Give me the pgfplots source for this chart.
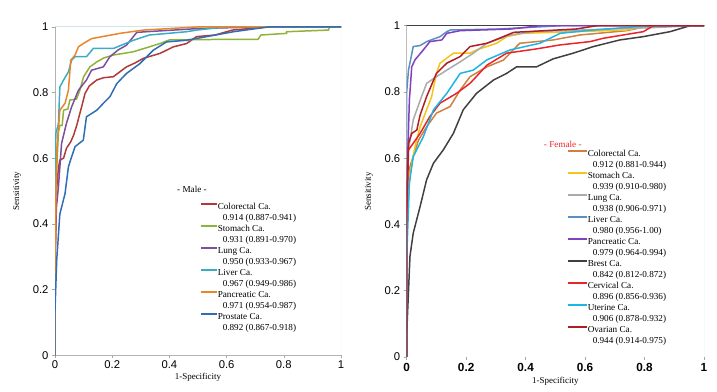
\documentclass[border=0pt]{standalone}
\usepackage{fontspec}
\setmainfont{Liberation Serif}
\setsansfont{Liberation Sans}
\usepackage{pgfplots}
\pgfplotsset{compat=1.18}
\definecolor{mRed}{HTML}{B03A3A}
\definecolor{mGreen}{HTML}{8DB33A}
\definecolor{mPurple}{HTML}{7B4FA0}
\definecolor{mCyan}{HTML}{3AACC6}
\definecolor{mOrange}{HTML}{E8862E}
\definecolor{mBlue}{HTML}{2F6DB5}
\definecolor{fColo}{HTML}{CF7F3F}
\definecolor{fStom}{HTML}{F5C518}
\definecolor{fLung}{HTML}{AAAAAA}
\definecolor{fLiver}{HTML}{5B8FBF}
\definecolor{fPanc}{HTML}{8040C0}
\definecolor{fBrest}{HTML}{404040}
\definecolor{fCerv}{HTML}{E8252A}
\definecolor{fUter}{HTML}{1EB4E6}
\definecolor{fOvar}{HTML}{B01E23}
\definecolor{frameBlue}{HTML}{CFE3EC}
\pgfplotsset{
  rocstyle/.style={
    scale only axis,
    xmin=0, xmax=1, ymin=0, ymax=1,
    xtick={0,0.2,0.4,0.6,0.8,1},
    ytick={0,0.2,0.4,0.6,0.8,1},
    xticklabels={0,0.2,0.4,0.6,0.8,1},
    yticklabels={0,0.2,0.4,0.6,0.8,1},
    axis line style={draw=none},
    tick align=outside,
    xtick pos=bottom, ytick pos=left,
    major tick length=3bp,
    tick style={gray!70, line width=0.5pt},
    ticklabel style={font=\sffamily\fontsize{11.3}{12}\selectfont},
    xlabel={1-Specificity}, ylabel={Sensitivity},
    label style={font=\fontsize{9}{10}\selectfont},
    legend cell align=left,
    legend style={draw=none, fill=none, font=\fontsize{9.2}{11}\selectfont,
      nodes={inner sep=0pt, outer sep=0pt, text height=7.9bp, text depth=3.1bp},
      row sep=0pt, column sep=0pt},
    every axis plot/.append style={line width=1.5pt, line join=miter},
  },
}
\newcommand{\num}[1]{\addlegendimage{empty legend}\addlegendentry{\hspace{5bp}#1}}
\begin{document}
\begin{tikzpicture}
\useasboundingbox (0bp,0bp) rectangle (717bp,392bp);
% ---------------- Male ----------------
\begin{axis}[rocstyle, at={(55bp,36.7bp)}, anchor=south west, width=286bp, height=328.5bp,
  xlabel style={yshift=2bp}, ylabel style={yshift=5bp},
  xticklabel style={yshift=1bp},
  legend image code/.code={\draw[#1, line width=1.6pt] (0bp,3.2bp) -- (16bp,3.2bp);},
  legend style={at={(0.4965,0.475)}, anchor=north west,
    /tikz/every even column/.append style={column sep=7bp}}]
\draw[gray!60, line width=0.8pt] (rel axis cs:0,0) -- (rel axis cs:0,1);
\draw[gray!60, line width=0.8pt] (rel axis cs:0,0) -- (rel axis cs:1,0);
\draw[frameBlue, line width=0.8pt] (rel axis cs:1,0) -- (rel axis cs:1,1) -- (rel axis cs:0,1);
\addplot[color=mRed] coordinates {(0,0) (0,0.25) (0.005,0.5) (0.012,0.57) (0.017,0.594) (0.03,0.6) (0.04,0.63) (0.055,0.65) (0.065,0.67) (0.076,0.7) (0.085,0.73) (0.093,0.756) (0.105,0.797) (0.12,0.82) (0.146,0.838) (0.17,0.845) (0.204,0.848) (0.23,0.865) (0.25,0.878) (0.28,0.89) (0.309,0.904) (0.367,0.919) (0.414,0.939) (0.46,0.949) (0.495,0.97) (0.56,0.975) (0.62,0.99) (0.75,1) (1,1)};
\addlegendentry{Colorectal Ca.}\num{0.914 (0.887-0.941)}
\addplot[color=mGreen] coordinates {(0,0) (0,0.3) (0.005,0.55) (0.012,0.68) (0.017,0.70) (0.025,0.70) (0.03,0.746) (0.045,0.75) (0.052,0.777) (0.075,0.78) (0.087,0.807) (0.1,0.848) (0.122,0.878) (0.146,0.893) (0.17,0.905) (0.204,0.914) (0.274,0.924) (0.33,0.939) (0.367,0.949) (0.40,0.96) (0.62,0.962) (0.71,0.962) (0.72,0.975) (0.81,0.98) (0.81,0.985) (0.956,0.99) (0.96,1) (1,1)};
\addlegendentry{Stomach Ca.}\num{0.931 (0.891-0.970)}
\addplot[color=mPurple] coordinates {(0,0) (0,0.3) (0.005,0.45) (0.012,0.513) (0.023,0.645) (0.04,0.706) (0.058,0.756) (0.082,0.807) (0.11,0.838) (0.128,0.868) (0.169,0.878) (0.192,0.909) (0.22,0.929) (0.25,0.944) (0.274,0.97) (0.286,0.983) (0.32,0.985) (0.507,0.995) (0.74,1) (1,1)};
\addlegendentry{Lung Ca.}\num{0.950 (0.933-0.967)}
\addplot[color=mCyan] coordinates {(0,0) (0,0.55) (0.003,0.675) (0.012,0.705) (0.017,0.817) (0.03,0.838) (0.047,0.863) (0.058,0.898) (0.07,0.909) (0.11,0.909) (0.134,0.934) (0.204,0.934) (0.274,0.959) (0.33,0.975) (0.46,0.985) (0.495,0.99) (0.6,1) (1,1)};
\addlegendentry{Liver Ca.}\num{0.967 (0.949-0.986)}
\addplot[color=mOrange] coordinates {(0,0) (0,0.25) (0.003,0.45) (0.006,0.624) (0.017,0.746) (0.035,0.767) (0.047,0.807) (0.055,0.898) (0.07,0.914) (0.082,0.939) (0.099,0.949) (0.128,0.964) (0.227,0.98) (0.309,0.99) (0.507,1) (1,1)};
\addlegendentry{Pancreatic Ca.}\num{0.971 (0.954-0.987)}
\addplot[color=mBlue] coordinates {(0,0) (0,0.137) (0.006,0.29) (0.017,0.43) (0.035,0.492) (0.047,0.574) (0.058,0.604) (0.07,0.635) (0.099,0.655) (0.11,0.726) (0.146,0.746) (0.169,0.767) (0.192,0.787) (0.216,0.827) (0.25,0.858) (0.297,0.888) (0.344,0.929) (0.39,0.954) (0.46,0.959) (0.53,0.97) (0.624,0.985) (0.75,1) (1,1)};
\addlegendentry{Prostate Ca.}\num{0.892 (0.867-0.918)}
\node[font=\fontsize{9.2}{11}\selectfont, anchor=center] at (rel axis cs:0.479,0.505) {- Male -};
\end{axis}
% ---------------- Female ----------------
\begin{axis}[rocstyle, at={(406.7bp,35bp)}, anchor=south west, width=297.3bp, height=331.3bp,
  xlabel style={yshift=1bp}, ylabel style={yshift=5bp},
  xticklabel style={font=\sffamily\bfseries\fontsize{11.8}{12}\selectfont},
  legend image code/.code={\draw[#1, line width=1.6pt] (0bp,3.2bp) -- (19bp,3.2bp);},
  legend style={at={(0.529,0.636)}, anchor=north west,
    /tikz/every even column/.append style={column sep=9bp}}]
\draw[gray!50, line width=0.8pt] (rel axis cs:0,0) -- (rel axis cs:1,0);
\draw[gray!35, line width=0.8pt] (rel axis cs:1,0) -- (rel axis cs:1,1);
\draw[black!75, line width=0.8pt] (rel axis cs:0,0) -- (rel axis cs:0,1) -- (rel axis cs:1,1);
\addplot[color=fColo] coordinates {(0,0) (0,0.4) (0.011,0.575) (0.04,0.655) (0.067,0.695) (0.1,0.736) (0.146,0.756) (0.18,0.806) (0.213,0.846) (0.27,0.876) (0.325,0.896) (0.38,0.947) (0.493,0.957) (0.583,0.972) (0.74,0.985) (0.82,1) (1,1)};
\addlegendentry{Colorectal Ca.}\num{0.912 (0.881-0.944)}
\addplot[color=fStom] coordinates {(0,0) (0,0.4) (0.011,0.555) (0.028,0.635) (0.045,0.695) (0.067,0.746) (0.084,0.786) (0.1,0.856) (0.112,0.887) (0.157,0.917) (0.213,0.917) (0.235,0.927) (0.303,0.947) (0.336,0.967) (0.392,0.977) (0.74,0.987) (0.81,1) (1,1)};
\addlegendentry{Stomach Ca.}\num{0.939 (0.910-0.980)}
\addplot[color=fLung] coordinates {(0,0) (0,0.45) (0.006,0.625) (0.022,0.716) (0.05,0.786) (0.067,0.826) (0.1,0.846) (0.135,0.866) (0.18,0.891) (0.224,0.917) (0.27,0.947) (0.348,0.972) (0.426,0.982) (0.85,0.995) (0.96,1) (1,1)};
\addlegendentry{Lung Ca.}\num{0.938 (0.906-0.971)}
\addplot[color=fLiver] coordinates {(0,0) (0,0.8) (0.006,0.866) (0.022,0.937) (0.045,0.94) (0.067,0.952) (0.112,0.967) (0.135,0.982) (0.146,0.987) (0.31,0.99) (0.52,1) (1,1)};
\addlegendentry{Liver Ca.}\num{0.980 (0.956-1.00)}
\addplot[color=fPanc] coordinates {(0,0) (0,0.5) (0.009,0.776) (0.017,0.876) (0.028,0.897) (0.056,0.927) (0.078,0.952) (0.118,0.957) (0.135,0.977) (0.18,0.985) (0.35,0.99) (0.45,1) (1,1)};
\addlegendentry{Pancreatic Ca.}\num{0.979 (0.964-0.994)}
\addplot[color=fBrest] coordinates {(0,0) (0,0.07) (0.011,0.304) (0.022,0.374) (0.045,0.454) (0.067,0.535) (0.09,0.585) (0.123,0.625) (0.157,0.675) (0.19,0.746) (0.235,0.796) (0.292,0.836) (0.336,0.856) (0.37,0.876) (0.437,0.876) (0.493,0.9) (0.56,0.917) (0.628,0.937) (0.717,0.957) (0.796,0.967) (0.886,0.982) (0.953,1) (1,1)};
\addlegendentry{Brest Ca.}\num{0.842 (0.812-0.872)}
\addplot[color=fCerv] coordinates {(0,0) (0,0.4) (0.006,0.625) (0.022,0.645) (0.045,0.675) (0.078,0.726) (0.112,0.766) (0.168,0.796) (0.213,0.826) (0.27,0.881) (0.336,0.917) (0.437,0.93) (0.516,0.942) (0.617,0.952) (0.661,0.962) (0.796,0.982) (0.83,1) (1,1)};
\addlegendentry{Cervical Ca.}\num{0.896 (0.856-0.936)}
\addplot[color=fUter] coordinates {(0,0) (0,0.3) (0.009,0.525) (0.022,0.605) (0.056,0.665) (0.09,0.746) (0.135,0.796) (0.18,0.856) (0.224,0.866) (0.27,0.897) (0.348,0.927) (0.448,0.947) (0.516,0.977) (0.628,0.987) (0.818,1) (1,1)};
\addlegendentry{Uterine Ca.}\num{0.906 (0.878-0.932)}
\addplot[color=fOvar] coordinates {(0,0) (0,0.45) (0.006,0.645) (0.017,0.675) (0.034,0.685) (0.045,0.73) (0.067,0.786) (0.1,0.856) (0.135,0.887) (0.18,0.907) (0.213,0.937) (0.27,0.947) (0.325,0.967) (0.36,0.98) (0.57,0.99) (0.64,1) (1,1)};
\addlegendentry{Ovarian Ca.}\num{0.944 (0.914-0.975)}
\node[font=\fontsize{9.2}{11}\selectfont, text=fCerv, anchor=center] at (rel axis cs:0.525,0.643) {- Female -};
\end{axis}
\end{tikzpicture}
\end{document}
